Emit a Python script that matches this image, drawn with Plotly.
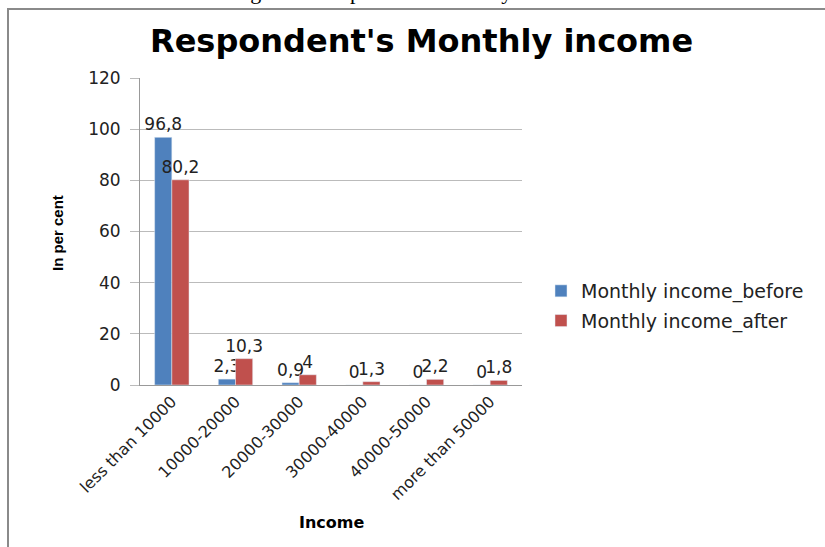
import plotly.graph_objects as go

categories = ["less than 10000", "10000-20000", "20000-30000", "30000-40000", "40000-50000", "more than 50000"]
before = [96.8, 2.3, 0.9, 0, 0, 0]
after = [80.2, 10.3, 4, 1.3, 2.2, 1.8]
series_names = ["Monthly income_before", "Monthly income_after"]
y_ticks = [0, 20, 40, 60, 80, 100, 120]

def fmt(v):
    return ("%g" % v).replace(".", ",")

W, H = 825, 547
L, R, T, B = 140, 303, 78, 162
pw, ph = W - L - R, H - T - B

def px_x(x):
    return (x - L) / pw

def px_y(y):
    return (H - B - y) / ph

lbl_font = dict(family="DejaVu Sans", size=17, color="#222")

fig = go.Figure()
fig.add_trace(go.Bar(x=categories, y=before, name=series_names[0], marker_color="#4F81BD",
                     text=[fmt(v) for v in before], textposition="outside", textfont=lbl_font,
                     constraintext="none", cliponaxis=False, legendgroup="a"))
fig.add_trace(go.Bar(x=categories, y=after, name=series_names[1], marker_color="#C0504D",
                     text=[fmt(v) for v in after], textposition="outside", textfont=lbl_font,
                     constraintext="none", cliponaxis=False, legendgroup="b"))

fig.update_layout(
    width=W, height=H,
    margin=dict(l=L, r=R, t=T, b=B, autoexpand=False),
    paper_bgcolor="white", plot_bgcolor="white",
    barmode="group", bargap=0.46, bargroupgap=0,
    showlegend=True,
    legend=dict(x=px_x(541), y=px_y(272), xanchor="left", yanchor="top",
                font=dict(family="DejaVu Sans", size=19, color="#222"),
                tracegroupgap=2, itemwidth=30, bgcolor="rgba(0,0,0,0)"),
    annotations=[
        dict(text="<b>Respondent's Monthly income</b>", x=px_x(421), y=px_y(41), xref="paper", yref="paper",
             xanchor="center", yanchor="middle", showarrow=False,
             font=dict(family="DejaVu Sans", size=32, color="black")),
        dict(text="Figure 2. Respondent's monthly income", x=px_x(407), y=px_y(6), xref="paper", yref="paper",
             xanchor="center", yanchor="bottom", showarrow=False,
             font=dict(family="Liberation Serif", size=22, color="black")),
        dict(text="<b>In per cent</b>", x=px_x(57), y=px_y(233), xref="paper", yref="paper",
             xanchor="center", yanchor="middle", showarrow=False, textangle=-90,
             font=dict(family="Liberation Sans Narrow, Liberation Sans", size=15, color="black")),
        dict(text="<b>Income</b>", x=px_x(331), y=px_y(522), xref="paper", yref="paper",
             xanchor="center", yanchor="middle", showarrow=False,
             font=dict(family="DejaVu Sans", size=16, color="black")),
    ],
    shapes=[
        dict(type="rect", xref="paper", yref="paper", x0=px_x(8), x1=2, y0=-1, y1=px_y(9),
             line=dict(color="#8a8a8a", width=2), fillcolor="rgba(0,0,0,0)", layer="below"),
    ],
)
fig.update_xaxes(showline=True, linecolor="#999", linewidth=1, tickangle=-45, automargin=False,
                 tickfont=dict(family="DejaVu Sans", size=16, color="#222"),
                 ticks="", showgrid=False)
fig.update_yaxes(range=[0, 120], tickvals=y_ticks, showgrid=True, gridcolor="#bbb", gridwidth=1,
                 showline=True, linecolor="#999", linewidth=1, ticks="outside", ticklen=9,
                 tickcolor="#bbb", zeroline=False, automargin=False, ticklabelstandoff=6,
                 tickfont=dict(family="DejaVu Sans", size=17, color="#222"))

fig.write_html("out.html", config={"displayModeBar": False},
               post_script="document.body.style.margin='0';")
